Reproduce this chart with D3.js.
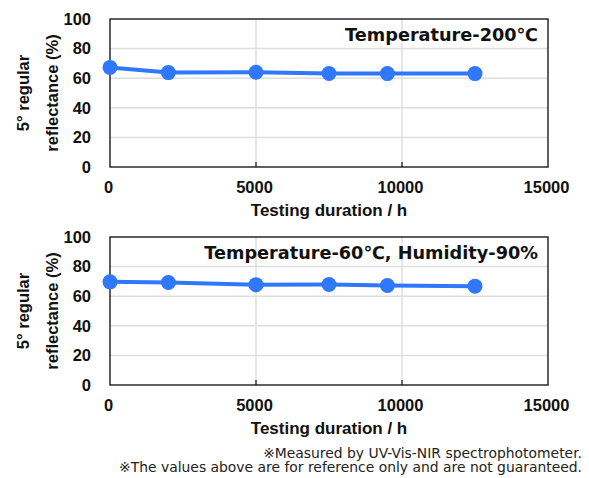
<!DOCTYPE html>
<html>
<head>
<meta charset="utf-8">
<script src="https://cdn.jsdelivr.net/npm/d3@7"></script>
<style>
  body { margin: 0; background: #fff; }
  .tick text { font-family: "Liberation Sans", Arial, sans-serif; font-weight: bold; font-size: 16.5px; fill: #111; }
</style>
</head>
<body>
<div id="node"></div>
<script>
// testing duration (h) and reflectance (%) for both conditions
const hours = [0, 2000, 5000, 7500, 9500, 12500];
const reflectance200C = [67.3, 63.8, 64.0, 63.2, 63.1, 63.1];
const reflectance60C90RH = [69.7, 69.3, 67.8, 67.9, 67.2, 66.8];
const panelTitles = ["Temperature-200\u2103", "Temperature-60\u2103, Humidity-90%"];
const xTicks = [0, 5000, 10000, 15000];
const yTicks = [0, 20, 40, 60, 80, 100];
const notes = [
  "\u203BMeasured by UV-Vis-NIR spectrophotometer.",
  "\u203BThe values above are for reference only and are not guaranteed."
];

const width = 589, height = 478;
const blue = "#2f78fb";

const svg = d3.select("#node")
  .append("svg")
  .attr("width", width)
  .attr("height", height);

const x = d3.scaleLinear().domain([0, 15000]).range([110, 548]);

function drawPanel(top, values, title) {
  const y = d3.scaleLinear().domain([0, 100]).range([top + 148, top]);
  const g = svg.append("g");

  // grid
  g.append("g").selectAll("line")
    .data(yTicks.slice(1, -1))
    .enter().append("line")
    .attr("x1", x(0)).attr("x2", x(15000))
    .attr("y1", d => y(d)).attr("y2", d => y(d))
    .attr("stroke", "#dedede").attr("stroke-width", 1.5);
  g.append("g").selectAll("line")
    .data(xTicks.slice(1, -1))
    .enter().append("line")
    .attr("x1", d => x(d)).attr("x2", d => x(d))
    .attr("y1", y(0)).attr("y2", y(100))
    .attr("stroke", "#dedede").attr("stroke-width", 1.5);

  // inner tick marks on x axis
  g.append("g").selectAll("line")
    .data(xTicks.slice(1, -1))
    .enter().append("line")
    .attr("x1", d => x(d)).attr("x2", d => x(d))
    .attr("y1", y(0)).attr("y2", y(0) - 5)
    .attr("stroke", "#222").attr("stroke-width", 1.3);

  // frame
  g.append("rect")
    .attr("x", x(0)).attr("y", y(100))
    .attr("width", x(15000) - x(0)).attr("height", y(0) - y(100))
    .attr("fill", "none").attr("stroke", "#1a1a1a").attr("stroke-width", 1.4);

  // axes (labels only)
  const xAxis = g.append("g")
    .attr("transform", "translate(-2," + y(0) + ")")
    .call(d3.axisBottom(x).tickValues(xTicks).tickSize(0).tickPadding(14).tickFormat(d3.format("d")));
  xAxis.select(".domain").remove();

  const yAxis = g.append("g")
    .attr("transform", "translate(" + x(0) + ",0)")
    .call(d3.axisLeft(y).tickValues(yTicks).tickSize(0).tickPadding(19));
  yAxis.select(".domain").remove();

  // x title
  g.append("text")
    .attr("x", 329).attr("y", y(0) + 49)
    .attr("text-anchor", "middle")
    .style("font-family", "'Liberation Sans', Arial, sans-serif")
    .style("font-weight", "bold").style("font-size", "17px").attr("fill", "#111")
    .text("Testing duration / h");

  // y title
  const yt = g.append("text")
    .attr("transform", "translate(0," + ((y(0) + y(100)) / 2) + ") rotate(-90)")
    .attr("text-anchor", "middle")
    .style("font-family", "'Liberation Sans', Arial, sans-serif")
    .style("font-weight", "bold").style("font-size", "16.5px").attr("fill", "#111");
  yt.append("tspan").attr("x", 0).attr("y", 29).text("5\u00B0 regular");
  yt.append("tspan").attr("x", 0).attr("y", 58).text("reflectance (%)");

  // panel title
  g.append("text")
    .attr("x", 538).attr("y", y(100) + 22)
    .attr("text-anchor", "end")
    .style("font-family", "'DejaVu Sans', Verdana, sans-serif")
    .style("font-weight", "bold").style("font-size", "17.7px").attr("fill", "#111")
    .text(title);

  // line + markers
  const pts = hours.map((h, i) => ({ x: h, y: values[i] }));
  g.append("path")
    .datum(pts)
    .attr("fill", "none").attr("stroke", blue).attr("stroke-width", 4)
    .attr("d", d3.line().x(d => x(d.x)).y(d => y(d.y)));
  g.append("g").selectAll("circle")
    .data(pts)
    .enter().append("circle")
    .attr("cx", d => x(d.x)).attr("cy", d => y(d.y))
    .attr("r", 7.5).attr("fill", blue);
}

drawPanel(19, reflectance200C, panelTitles[0]);
drawPanel(237, reflectance60C90RH, panelTitles[1]);

// footnotes
svg.append("g").selectAll("text")
  .data(notes)
  .enter().append("text")
  .attr("x", 582).attr("y", (d, i) => 457.5 + i * 14.5)
  .attr("text-anchor", "end")
  .style("font-family", "'DejaVu Sans', Verdana, sans-serif")
  .style("font-size", "13.9px").attr("fill", "#222")
  .text(d => d);
</script>
</body>
</html>
